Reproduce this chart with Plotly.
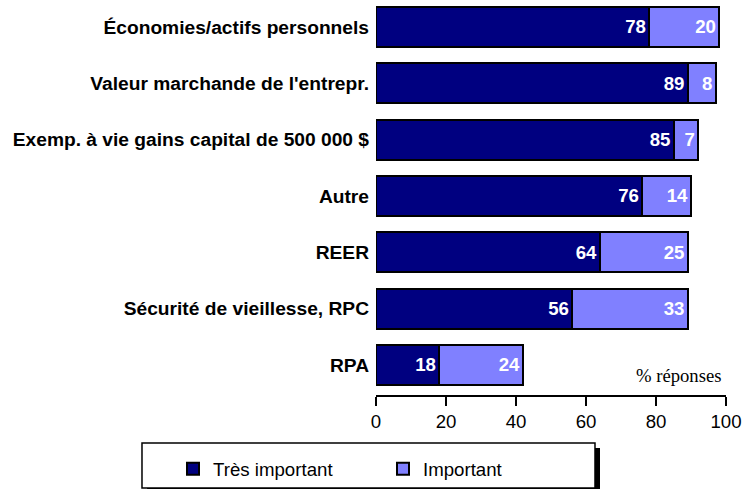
import plotly.graph_objects as go

categories = [
    "RPA",
    "Sécurité de vieillesse, RPC",
    "REER",
    "Autre",
    "Exemp. à vie gains capital de 500 000 $",
    "Valeur marchande de l'entrepr.",
    "Économies/actifs personnels",
]
tres_important = [18, 56, 64, 76, 85, 89, 78]
important = [24, 33, 25, 14, 7, 8, 20]
x_ticks = [0, 20, 40, 60, 80, 100]

FONT = "Arial, Liberation Sans, sans-serif"
FS = 18.67

fig = go.Figure()
fig.add_trace(go.Bar(
    y=categories, x=tres_important, orientation="h", name="Très important",
    marker=dict(color="#000080", line=dict(color="black", width=2)),
    width=0.71, text=tres_important, textposition="inside", insidetextanchor="end",
    textfont=dict(family=FONT, size=FS, color="white", weight="bold"),
))
fig.add_trace(go.Bar(
    y=categories, x=important, orientation="h", name="Important",
    marker=dict(color="#8080FF", line=dict(color="black", width=2)),
    width=0.71, text=important, textposition="inside", insidetextanchor="end",
    textfont=dict(family=FONT, size=FS, color="white", weight="bold"),
))

# legend frame with shadow
fig.add_shape(type="rect", xref="paper", yref="paper",
              x0=-0.654, x1=0.64, y0=-0.27, y1=-0.136,
              fillcolor="black", line=dict(width=0), layer="above")
fig.add_shape(type="rect", xref="paper", yref="paper",
              x0=-0.6686, x1=0.6257, y0=-0.2385, y1=-0.1231,
              fillcolor="white", line=dict(color="black", width=1.5), layer="above")

fig.add_annotation(text="% réponses", xref="x", yref="paper", x=99.1, y=0.049,
                   xanchor="right", yanchor="middle", showarrow=False,
                   font=dict(family="Liberation Serif, Times New Roman, serif", size=FS, color="black"))

fig.update_layout(
    width=742, height=489,
    margin=dict(l=376, r=16, t=5, b=94, autoexpand=False),
    paper_bgcolor="white", plot_bgcolor="white",
    barmode="stack",
    uniformtext=dict(minsize=FS, mode="show"),
    showlegend=True,
    legend=dict(orientation="h", x=-0.58, y=-0.141, xanchor="left", yanchor="top",
                bgcolor="rgba(0,0,0,0)", borderwidth=0,
                font=dict(family=FONT, size=FS, color="black"),
                entrywidth=165, entrywidthmode="pixels", traceorder="normal"),
    xaxis=dict(range=[0, 100], tickvals=x_ticks, showgrid=False, zeroline=False,
               showline=True, linecolor="black", linewidth=2, automargin=False,
               ticks="outside", ticklen=9, tickwidth=2, tickcolor="black",
               tickfont=dict(family=FONT, size=FS, color="black")),
    yaxis=dict(categoryorder="array", categoryarray=categories, automargin=False,
               range=[-0.533, 6.39], showgrid=False, zeroline=False, showline=False,
               ticks="", ticklabelstandoff=6,
               tickfont=dict(family=FONT, size=19.2, color="black", weight="bold")),
)

fig.write_html("out.html", config={"displayModeBar": False},
               post_script="document.body.style.margin='0px';")
